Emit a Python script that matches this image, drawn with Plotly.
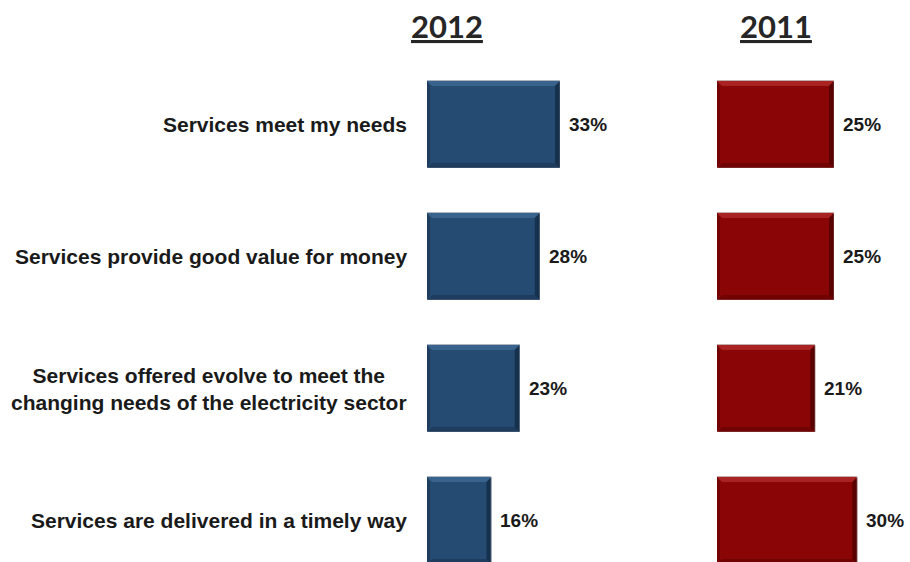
import plotly.graph_objects as go

# Survey statements and the share of respondents agreeing, by year
statements = [
    "Services meet my needs",
    "Services provide good value for money",
    "Services offered evolve to meet the<br>changing needs of the electricity sector",
    "Services are delivered in a timely way",
]
pct_2012 = [33, 28, 23, 16]
pct_2011 = [25, 25, 21, 30]
years = ["2012", "2011"]

W, H = 910, 562
ROW_PX = 132.0          # vertical pitch between rows
TOP_ROW_PX = 124.5      # centre of the first row
BAR_W = 0.66            # bar thickness in row units

# horizontal geometry of each panel: left pixel, pixels per percent, axis max
panels = [
    dict(left=427, ppu=4.03, xmax=40, base="#264B73", light="#3E6892",
         dark="#1B3859", darker="#132A45", edge="#AEB6BF"),
    dict(left=717, ppu=4.68, xmax=35, base="#8A0505", light="#B02A2A",
         dark="#6A0202", darker="#4E0000", edge="#C2AFAF"),
]
series = [pct_2012, pct_2011]
rows = list(range(len(statements)))

# numeric y axis so that rows sit at fixed pixel pitch
y_top = -TOP_ROW_PX / ROW_PX
y_bot = (H - TOP_ROW_PX) / ROW_PX

fig = go.Figure()
shapes = []
annotations = []

for p_i, (panel, vals) in enumerate(zip(panels, series)):
    xa = "x" if p_i == 0 else "x2"
    fig.add_trace(go.Bar(
        x=vals, y=rows, orientation="h", width=BAR_W,
        marker=dict(color=panel["base"], line=dict(color=panel["edge"], width=1)),
        xaxis=xa, yaxis="y", showlegend=False, hoverinfo="x+y",
    ))
    bx = 5.0 / panel["ppu"]
    by = 5.0 / ROW_PX
    for r, v in zip(rows, vals):
        t, b = r - BAR_W / 2, r + BAR_W / 2
        bevels = [
            (panel["light"], [(0, t), (v, t), (v - bx, t + by), (bx, t + by)]),
            (panel["dark"], [(0, b), (v, b), (v - bx, b - by), (bx, b - by)]),
            (panel["darker"], [(v, t), (v, b), (v - bx, b - by), (v - bx, t + by)]),
            (panel["dark"], [(0, t), (0, b), (bx * 0.6, b - by), (bx * 0.6, t + by)]),
        ]
        for col, pts in bevels:
            path = "M " + " L ".join(f"{px},{py}" for px, py in pts) + " Z"
            shapes.append(dict(type="path", path=path, xref=xa, yref="y",
                               fillcolor=col, line=dict(width=0), opacity=0.8,
                               layer="above"))
        annotations.append(dict(
            x=v, y=r, xref=xa, yref="y", text=f"<b>{v}%</b>", showarrow=False,
            xanchor="left", yanchor="middle", xshift=7,
            font=dict(family="Liberation Sans, Arial", size=19, color="#1A1A1A"),
        ))

# statement labels to the left of the 2012 bars
for r, s in zip(rows, statements):
    annotations.append(dict(
        x=409 / W, y=r, xref="paper", yref="y", text=f"<b>{s}</b>",
        showarrow=False, xanchor="right", yanchor="middle", align="center",
        font=dict(family="Liberation Sans, Arial", size=21, color="#1A1A1A"),
    ))

# year headings
for cx, yr in zip([446.5, 775.5], years):
    annotations.append(dict(
        x=cx / W, y=1 - 26 / H, xref="paper", yref="paper",
        text=f"<b><u>{yr}</u></b>", showarrow=False,
        xanchor="center", yanchor="middle",
        font=dict(family="Lato, Open Sans", size=31, color="#262626"),
    ))

p0, p1 = panels
fig.update_layout(
    width=W, height=H, autosize=False,
    margin=dict(l=0, r=0, t=0, b=0),
    paper_bgcolor="white", plot_bgcolor="white",
    xaxis=dict(domain=[p0["left"] / W, (p0["left"] + p0["ppu"] * p0["xmax"]) / W],
               range=[0, p0["xmax"]], visible=False, fixedrange=True),
    xaxis2=dict(domain=[p1["left"] / W, (p1["left"] + p1["ppu"] * p1["xmax"]) / W],
                range=[0, p1["xmax"]], visible=False, fixedrange=True, anchor="y"),
    yaxis=dict(range=[y_bot, y_top], visible=False, fixedrange=True, anchor="x"),
    shapes=shapes,
    annotations=annotations,
    bargap=0,
)

fig.write_html("out.html")
